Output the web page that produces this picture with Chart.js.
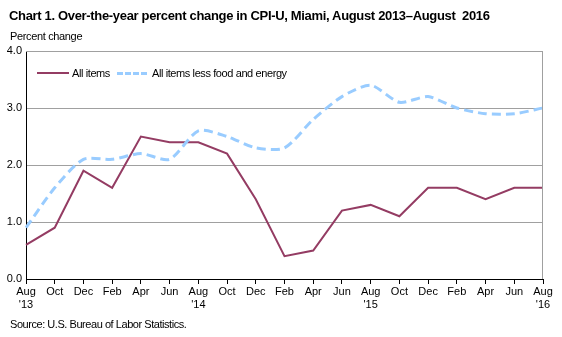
<!DOCTYPE html>
<html>
<head>
<meta charset="utf-8">
<script src="https://cdn.jsdelivr.net/npm/chart.js@4"></script>
<style>
  body { margin: 0; background: #fff; font-family: "Liberation Sans", Arial, sans-serif; }
  #wrap { position: relative; width: 562px; height: 337px; overflow: hidden; }
  canvas { position: absolute; left: 0; top: 0; }
  .txt { position: absolute; color: #000; white-space: nowrap; }
  #title { left: 9px; top: 8px; font-size: 13px; font-weight: bold; letter-spacing: -0.33px; }
  #ylab { left: 10px; top: 30px; font-size: 11px; letter-spacing: -0.35px; }
  #source { left: 10px; top: 318px; font-size: 11px; letter-spacing: -0.45px; }
  #legend { left: 37px; top: 67px; font-size: 11px; letter-spacing: -0.4px; display: flex; align-items: center; }
  .sw { display: inline-block; height: 0; margin-right: 3px; }
</style>
</head>
<body>
<div id="wrap">
  <canvas id="chart" width="562" height="337"></canvas>
  <div class="txt" id="title">Chart 1. Over-the-year percent change in CPI-U, Miami, August&nbsp;2013–August&nbsp;&nbsp;2016</div>
  <div class="txt" id="ylab">Percent change</div>
  <div class="txt" id="legend">
    <span class="sw" style="width:32px;border-top:2px solid #943c63;"></span><span style="margin-right:7px">All items</span>
    <span class="sw" style="width:30px;border-top:3px dashed #99ccff;margin-right:5px"></span><span>All items less food and energy</span>
  </div>
  <div class="txt" id="source">Source: U.S. Bureau of Labor Statistics.</div>
</div>
<script>
// bimonthly, Aug 2013 - Aug 2016
const months = ['Aug', 'Oct', 'Dec', 'Feb', 'Apr', 'Jun', 'Aug', 'Oct', 'Dec', 'Feb', 'Apr', 'Jun', 'Aug', 'Oct', 'Dec', 'Feb', 'Apr', 'Jun', 'Aug'];
const years = ["'13", '', '', '', '', '', "'14", '', '', '', '', '', "'15", '', '', '', '', '', "'16"];
const allItems = [0.6, 0.9, 1.9, 1.6, 2.5, 2.4, 2.4, 2.2, 1.4, 0.4, 0.5, 1.2, 1.3, 1.1, 1.6, 1.6, 1.4, 1.6, 1.6];
const lessFoodEnergy = [0.9, 1.6, 2.1, 2.1, 2.2, 2.1, 2.6, 2.5, 2.3, 2.3, 2.8, 3.2, 3.4, 3.1, 3.2, 3.0, 2.9, 2.9, 3.0];

const labels = months.map((m, i) => years[i] ? [m, years[i]] : m);

// grey frame on top and right of the plot
const framePlugin = {
    id: 'frame',
    afterDraw(chart) {
        const { ctx, chartArea: a } = chart;
        ctx.save();
        ctx.strokeStyle = '#a0a0a0';
        ctx.lineWidth = 1;
        ctx.beginPath();
        ctx.moveTo(a.left, a.top + 0.5);
        ctx.lineTo(a.right - 0.5, a.top + 0.5);
        ctx.lineTo(a.right - 0.5, a.bottom);
        ctx.stroke();
        ctx.restore();
    }
};

const font = { family: '"Liberation Sans", Arial, sans-serif', size: 11 };

new Chart(document.getElementById('chart'), {
    type: 'line',
    data: {
        labels: labels,
        datasets: [
            {
                label: 'All items less food and energy',
                data: lessFoodEnergy,
                borderColor: '#99ccff',
                borderWidth: 3,
                borderDash: [9, 5],
                pointRadius: 0,
                tension: 0.25,
                fill: false
            },
            {
                label: 'All items',
                data: allItems,
                borderColor: '#943c63',
                borderWidth: 2,
                pointRadius: 0,
                tension: 0,
                fill: false
            }
        ]
    },
    options: {
        responsive: false,
        animation: false,
        layout: { padding: { top: 51, right: 19, bottom: 22, left: 0 } },
        plugins: {
            legend: { display: false },
            tooltip: { enabled: false }
        },
        scales: {
            x: {
                offset: false,
                grid: {
                    drawOnChartArea: false,
                    drawTicks: true,
                    tickLength: 5,
                    color: '#000'
                },
                border: { color: '#000', width: 1 },
                ticks: {
                    color: '#000',
                    font: font,
                    maxRotation: 0,
                    autoSkip: false,
                    padding: 1
                },
                afterFit(scale) { scale.height = 36; }
            },
            y: {
                min: 0,
                max: 4,
                grid: {
                    color: (c) => (c.tick.value === 0 ? 'rgba(0,0,0,0)' : '#a0a0a0'),
                    drawTicks: false
                },
                border: { color: '#000', width: 1 },
                ticks: {
                    stepSize: 1,
                    color: '#000',
                    font: font,
                    padding: 4,
                    callback: (v) => v.toFixed(1)
                },
                afterFit(scale) { scale.width = 26; }
            }
        }
    },
    plugins: [framePlugin]
});
</script>
</body>
</html>
